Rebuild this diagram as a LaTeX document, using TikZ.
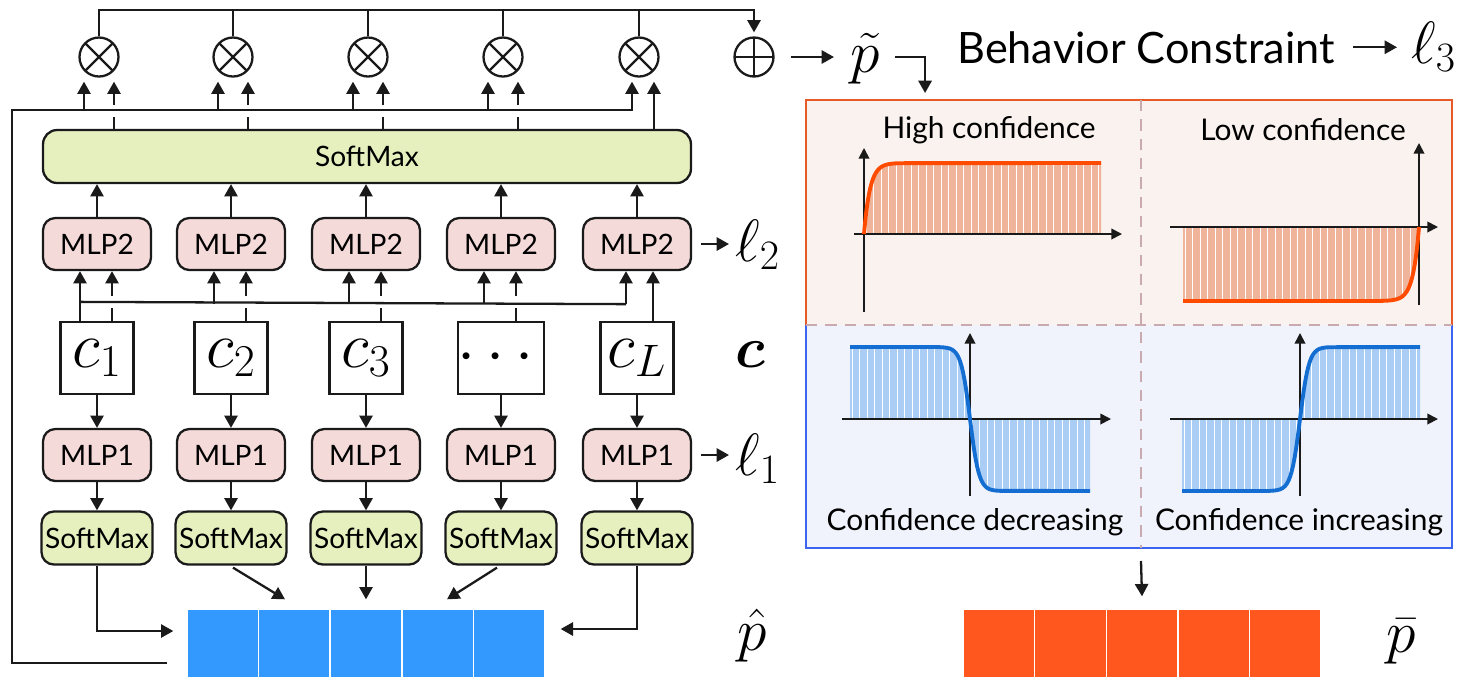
\RequirePackage{fix-cm}
\documentclass[tikz,border=0pt]{standalone}
\usepackage{amsmath}
\usepackage[no-math]{fontspec}
\setmainfont{Lato}
\usepackage{tikz}
\usetikzlibrary{
  arrows.meta,
  calc,
  positioning
}
\definecolor{ink}{HTML}{1A1A1A}
\definecolor{mlpfill}{HTML}{F5DADA}
\definecolor{smfill}{HTML}{E6EFBE}
\definecolor{phatcell}{HTML}{3399FF}
\definecolor{pbarcell}{HTML}{FF571E}
\definecolor{warmbg}{HTML}{FAF2EE}
\definecolor{warmedge}{HTML}{E65A28}
\definecolor{coolbg}{HTML}{F0F3FC}
\definecolor{cooledge}{HTML}{3C64F0}
\definecolor{divider}{HTML}{C8AAAF}
\definecolor{warmcurve}{HTML}{FF4B00}
\definecolor{warmfill}{HTML}{F0B49B}
\definecolor{coolcurve}{HTML}{146ED2}
\definecolor{coolfill}{HTML}{AACDF5}
\newcommand{\boxfont}{\fontsize{16}{18}\selectfont}
\tikzset{
  wire/.style={
    line width=1.3pt,
    draw=ink
  },
  flow/.style={
    wire,
    -{Triangle[length=7pt,width=7.5pt]}
  },
  mlp/.style={
    draw=ink,
    fill=mlpfill,
    line width=1.3pt,
    rounded corners=7pt,
    minimum width=2.16cm,
    minimum height=1.04cm,
    inner sep=0pt,
    font=\boxfont
  },
  smallsm/.style={
    mlp,
    fill=smfill,
    minimum width=2.22cm,
    minimum height=1.06cm
  },
  bigsm/.style={
    mlp,
    fill=smfill,
    rounded corners=8pt,
    minimum width=12.96cm,
    minimum height=1.06cm
  },
  ctx/.style={
    draw=ink,
    fill=white,
    line width=1.3pt,
    minimum width=1.46cm,
    minimum height=1.44cm,
    inner sep=0pt,
    font=\fontsize{37}{37}\selectfont
  },
  prodop/.style={
    circle,
    draw=ink,
    line width=1.3pt,
    minimum size=0.78cm,
    inner sep=0pt,
    path picture={
      \draw[ink, line width=1.3pt]
        (path picture bounding box.north west) --
        (path picture bounding box.south east)
        (path picture bounding box.north east) --
        (path picture bounding box.south west);
    }
  },
  sumop/.style={
    prodop,
    path picture={
      \draw[ink, line width=1.3pt]
        (path picture bounding box.north) --
        (path picture bounding box.south)
        (path picture bounding box.east) --
        (path picture bounding box.west);
    }
  },
  cell/.style={
    draw=white,
    line width=0.8pt,
    minimum width=1.432cm,
    minimum height=1.38cm,
    inner sep=0pt
  },
  bigmath/.style={
    font=\fontsize{34}{34}\selectfont,
    inner sep=0pt
  },
  panellabel/.style={
    font=\fontsize{17}{19}\selectfont,
    inner sep=0pt
  },
  plotaxis/.style={
    line width=1pt,
    draw=ink,
    -{Triangle[length=6pt,width=6pt]}
  },
  stripe/.style={
    white,
    line width=0.5pt
  }
}

\begin{document}
\begin{tikzpicture}[x=0.02cm,y=-0.02cm]
  \useasboundingbox (0,0) rectangle (1457,681);

  % Per-lane blocks.
  \foreach \i/\x in {1/97, 2/231, 3/366, 4/501, 5/637}{
    \node[mlp] (mlpb\i) at (\x,244) {MLP2};
    \node[mlp] (mlpa\i) at (\x,455) {MLP1};
    \node[smallsm] (sm\i) at (\x,538) {SoftMax};
    \node[prodop] (mul\i) at (\x+2,57) {};
  }
  \node[ctx] (c1) at (97,358) {$c_1$};
  \node[ctx] (c2) at (231,358) {$c_2$};
  \node[ctx] (c3) at (366,358) {$c_3$};
  \node[ctx] (c4) at (501,358) {$\cdots$};
  \node[ctx] (c5) at (637,358) {$c_L$};
  \node[bigsm] (smx) at (367,156.5) {SoftMax};
  \node[sumop] (sum) at (754,57) {};

  % Output vectors.
  \foreach \i in {1,...,5}{
    \node[cell, fill=phatcell] (ph\i) at (151.2+71.6*\i,643.5) {};
    \node[cell, fill=pbarcell] (pb\i) at (927.2+71.6*\i,643.5) {};
  }

  % Side labels.
  \node[bigmath, anchor=base west] (l2) at (735,261) {$\ell_2$};
  \node[bigmath, anchor=base west] (l1) at (735,475) {$\ell_1$};
  \node[font=\fontsize{33}{33}\selectfont, inner sep=0pt, anchor=base west]
    (cvec) at (735,367) {$\boldsymbol{c}$};
  \node[bigmath, anchor=base west] (phat) at (737,650) {$\hat{p}$};
  \node[bigmath, anchor=base west] (pbar) at (1386,652) {$\bar{p}$};
  \node[bigmath] (ptilde) at (865,59) {$\tilde{p}$};
  \node[font=\fontsize{24.6}{28}\selectfont, inner sep=0pt, anchor=base west]
    (bc) at (957,63) {Behavior Constraint};
  \node[bigmath, anchor=base west] (l3) at (1411,63) {$\ell_3$};

  % Lane arrows.
  \foreach \i in {1,...,5}{
    \draw[flow] (c\i.south) -- (mlpa\i.north);
    \draw[flow] (mlpa\i.south) -- (sm\i.north);
    \draw[flow] (mlpb\i.north) -- (mlpb\i.north |- smx.south);
  }

  % c_1 shared bus into MLP2, own c_i jumps over it.
  \draw[flow] ($(c1.north)+(-17,0)$) -- ($(mlpb1.south)+(-17,0)$);
  \draw[wire] ($(c1.north)+(-17,-19)$) -- ($(mlpb5.south)+(-11,33)$);
  \foreach \i in {2,3,4}{
    \draw[flow] ($(mlpb\i.south)+(-17,33)$) -- ($(mlpb\i.south)+(-17,0)$);
  }
  \draw[flow] ($(mlpb5.south)+(-11,33)$) -- ($(mlpb5.south)+(-11,0)$);
  \foreach \i in {1,...,4}{
    \draw[wire] ($(c\i.north)+(15,0)$) -- ($(c\i.north)+(15,-13)$);
    \draw[flow] ($(c\i.north)+(15,-25)$) -- ($(mlpb\i.south)+(15,0)$);
  }
  \draw[flow] ($(c5.north)+(16,0)$) -- ($(mlpb5.south)+(16,0)$);

  % Losses.
  \draw[flow] ($(mlpb5.east)+(9,0)$) -- ($(l2.west |- mlpb5.east)+(-6,0)$);
  \draw[flow] ($(mlpa5.east)+(9,0)$) -- ($(l1.west |- mlpa5.east)+(-6,0)$);

  % SoftMax outputs into p-hat.
  \draw[flow] (sm1.south) |- ($(ph1.west)+(-13,-12.5)$);
  \draw[flow] ($(sm2.south)+(2,2)$) -- ($(ph2.north)+(-9.4,-9)$);
  \draw[flow] (sm3.south) -- ($(ph3.north)+(0,-9)$);
  \draw[flow] ($(sm4.south)+(-4,2)$) -- ($(ph4.north)+(9.4,-9)$);
  \draw[flow] (sm5.south) |- ($(ph5.east)+(15,-14.5)$);

  % Feedback of p-hat into the products.
  \coordinate (loopy) at (12,110);
  \draw[flow] ($(ph1.west)+(-19,19.5)$) -| (loopy) -| ($(mul5.south)+(-7,4)$);
  \foreach \i in {1,...,4}{
    \draw[flow] ($(mul\i.south)+(-15,33.5)$) -- ($(mul\i.south)+(-15,4)$);
    \draw[wire] ($(mul\i.south)+(15,53.5)$) -- ($(mul\i.south)+(15,39.5)$);
    \draw[flow] ($(mul\i.south)+(15,27.5)$) -- ($(mul\i.south)+(15,4)$);
  }
  \draw[flow] ($(mul5.south)+(15,53.5)$) -- ($(mul5.south)+(15,4)$);

  % Sum of products.
  \coordinate (topy) at (0,10);
  \draw[flow] (mul1.north) |- (topy -| sum.north) -- ($(sum.north)+(0,-4)$);
  \foreach \i in {2,...,5}{
    \draw[wire] (mul\i.north) -- (mul\i.north |- topy);
  }
  \draw[flow] ($(sum.east)+(16,0)$) -- ($(ptilde.west |- sum.east)+(-16,0)$);
  \draw[flow] ($(bc.east)+(18,0)$) -- ($(l3.west |- bc.east)+(-14,0)$);

  % Behaviour panel.
  \node[fill=warmbg, minimum width=12.92cm, minimum height=4.5cm,
    inner sep=0pt, outer sep=0pt] (warm) at (1129,212.5) {};
  \node[fill=coolbg, minimum width=12.92cm, minimum height=4.46cm,
    inner sep=0pt, outer sep=0pt] (cool) at (1129,436.5) {};
  \draw[warmedge, line width=1.2pt]
    (warm.south west) -- (warm.north west) -- (warm.north east) -- (warm.south east);
  \draw[cooledge, line width=1.2pt]
    (cool.north west) -- (cool.south west) -- (cool.south east) -- (cool.north east);
  \draw[divider, line width=0.9pt, dash pattern=on 6.5pt off 4.5pt]
    (warm.south west) -- (warm.south east);
  \draw[divider, line width=0.9pt, dash pattern=on 6.5pt off 4.5pt]
    ($(warm.north)+(12,0)$) -- ($(cool.south)+(12,0)$);
  \draw[flow] ($(ptilde.east |- sum.east)+(15,0)$) -| ($(warm.north west)+(119,-7)$);
  \draw[flow] ($(cool.south)+(12,13)$) -- ($(pb3.north)+(0,-12)$);

  % High confidence.
  \begin{scope}
    \clip (864,234) -- plot[domain=864:900, samples=30]
      (\x,{234-71*(1-exp(-(\x-864)/6))}) -- (1101,163) -- (1101,234) -- cycle;
    \fill[warmfill] (850,150) rectangle (1110,240);
    \foreach \s in {866,873.5,...,1101}{
      \draw[stripe] (\s,150) -- (\s,240);
    }
  \end{scope}
  \draw[plotaxis] (864,312) -- (864,148);
  \draw[plotaxis] (854,234) -- (1122,234);
  \draw[warmcurve, line width=2.2pt, line join=round]
    plot[domain=864:900, samples=30] (\x,{234-71*(1-exp(-(\x-864)/6))})
    -- (1101,163);

  % Low confidence.
  \begin{scope}
    \clip (1183,227) -- (1183,301) -- (1380,301) -- plot[domain=1380:1419, samples=30]
      (\x,{301-74*exp(-(1419-\x)/6)}) -- cycle;
    \fill[warmfill] (1175,220) rectangle (1425,310);
    \foreach \s in {1185,1192.5,...,1419}{
      \draw[stripe] (\s,220) -- (\s,310);
    }
  \end{scope}
  \draw[plotaxis] (1419,305) -- (1419,143);
  \draw[plotaxis] (1170,227) -- (1438,227);
  \draw[warmcurve, line width=2.2pt, line join=round]
    (1183,301) -- (1380,301) -- plot[domain=1380:1419, samples=30]
    (\x,{301-74*exp(-(1419-\x)/6)});

  % Confidence decreasing.
  \begin{scope}
    \clip (850,419) -- (850,347) -- (940,347) -- plot[domain=940:1000, samples=40]
      (\x,{419+72*tanh((\x-970)/9)}) -- (1090,491) -- (1090,419) -- cycle;
    \fill[coolfill] (845,340) rectangle (1095,500);
    \foreach \s in {852,859.5,...,1090}{
      \draw[stripe] (\s,340) -- (\s,500);
    }
  \end{scope}
  \draw[plotaxis] (970,496) -- (970,333);
  \draw[plotaxis] (842,419) -- (1111,419);
  \draw[coolcurve, line width=2.2pt, line join=round]
    (850,347) -- (940,347) -- plot[domain=940:1000, samples=40]
    (\x,{419+72*tanh((\x-970)/9)}) -- (1090,491);

  % Confidence increasing.
  \begin{scope}
    \clip (1182,419) -- (1182,491) -- (1270,491) -- plot[domain=1270:1330, samples=40]
      (\x,{419-72*tanh((\x-1300)/9)}) -- (1420,347) -- (1420,419) -- cycle;
    \fill[coolfill] (1175,340) rectangle (1425,500);
    \foreach \s in {1184,1191.5,...,1420}{
      \draw[stripe] (\s,340) -- (\s,500);
    }
  \end{scope}
  \draw[plotaxis] (1300,496) -- (1300,333);
  \draw[plotaxis] (1170,419) -- (1438,419);
  \draw[coolcurve, line width=2.2pt, line join=round]
    (1182,491) -- (1270,491) -- plot[domain=1270:1330, samples=40]
    (\x,{419-72*tanh((\x-1300)/9)}) -- (1420,347);

  % Panel captions.
  \node[panellabel] (hi) at (989,130) {High confidence};
  \node[panellabel] (lo) at (1303,130) {Low confidence};
  \node[panellabel] (dec) at (975,522) {Confidence decreasing};
  \node[panellabel] (inc) at (1299,522) {Confidence increasing};
\end{tikzpicture}
\end{document}
